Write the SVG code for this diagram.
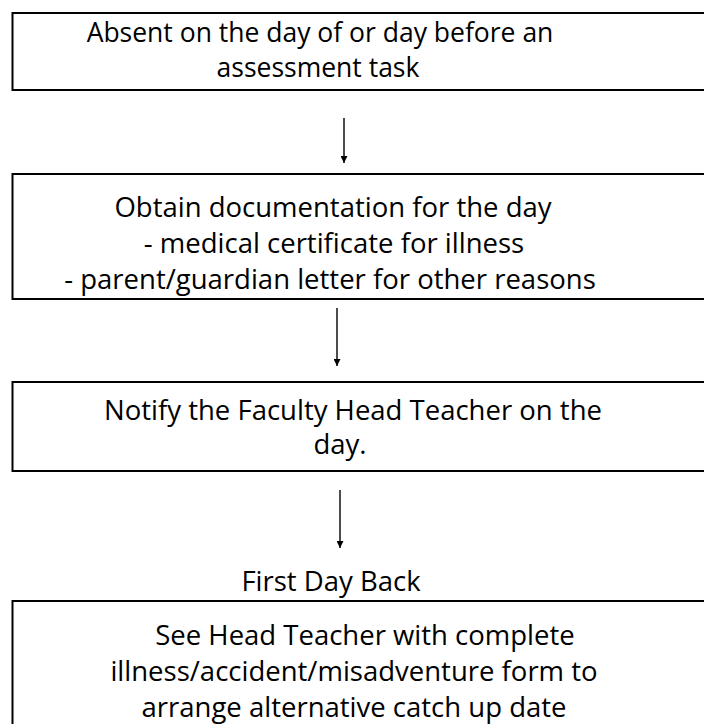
<svg xmlns="http://www.w3.org/2000/svg" width="704" height="724" viewBox="0 0 704 724">
  <style>
    .box { fill: #ffffff; stroke: #000000; stroke-width: 2; }
    .lbl { font-family: "Open Sans", "Liberation Sans", Arial, sans-serif; font-size: 27.5px; fill: #000000; text-anchor: middle; }
    .top { font-size: 26.5px; }
    .conn { stroke: #000000; stroke-width: 1.4; fill: none; }
  </style>
  <defs>
    <marker id="head" viewBox="0 0 10 10" refX="10" refY="5" markerWidth="7" markerHeight="7" markerUnits="userSpaceOnUse" orient="auto">
      <path d="M0,0 L10,5 L0,10 Z" fill="#000000"/>
    </marker>
  </defs>
  <rect width="704" height="724" fill="#ffffff"/>

  <g id="absent">
    <rect class="box" x="12.5" y="13" width="700" height="77"/>
    <text class="lbl top" x="320" y="42">Absent on the day of or day before an</text>
    <text class="lbl top" x="318" y="77">assessment task</text>
  </g>

  <g id="documentation">
    <rect class="box" x="12.5" y="174" width="700" height="125"/>
    <text class="lbl" x="333" y="217">Obtain documentation for the day</text>
    <text class="lbl" x="334" y="253">- medical certificate for  illness</text>
    <text class="lbl" x="330" y="289">- parent/guardian letter for other reasons</text>
  </g>

  <g id="notify">
    <rect class="box" x="12.5" y="382" width="700" height="89"/>
    <text class="lbl" x="353" y="420">Notify the Faculty Head Teacher on the</text>
    <text class="lbl" x="340" y="454">day.</text>
  </g>

  <g id="first-day-back">
    <text class="lbl" x="331" y="591">First Day Back</text>
  </g>

  <g id="see-head-teacher">
    <rect class="box" x="12.5" y="601" width="700" height="140"/>
    <text class="lbl" x="365" y="645">See Head Teacher with complete</text>
    <text class="lbl" x="354" y="681">illness/accident/misadventure form to</text>
    <text class="lbl" x="354" y="717">arrange alternative catch up date</text>
  </g>

  <g id="connectors">
    <line class="conn" x1="344" y1="118" x2="344" y2="163" marker-end="url(#head)"/>
    <line class="conn" x1="337" y1="308" x2="337" y2="366" marker-end="url(#head)"/>
    <line class="conn" x1="340" y1="490" x2="340" y2="548" marker-end="url(#head)"/>
  </g>
</svg>
